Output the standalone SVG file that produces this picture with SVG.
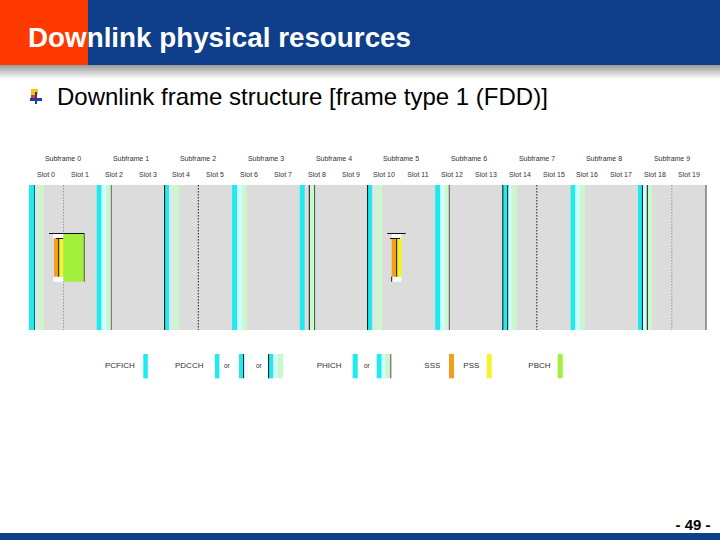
<svg xmlns="http://www.w3.org/2000/svg" width="720" height="540" viewBox="0 0 720 540">
<defs>
<linearGradient id="shadow" x1="0" y1="0" x2="0" y2="1">
<stop offset="0" stop-color="#9a9a9a"/>
<stop offset="1" stop-color="#ffffff"/>
</linearGradient>
<style>
.sf{font-family:"Liberation Sans",Arial,sans-serif;font-size:7px;fill:#333;text-anchor:middle}
.lg{font-family:"Liberation Sans",Arial,sans-serif;font-size:8px;fill:#333}
.or{font-family:"Liberation Sans",Arial,sans-serif;font-size:6.5px;fill:#333}
.cy{fill:#1eeaf0}
.lc{fill:#ccffff}
.lgn{fill:#ccf7cc}
.pl{fill:#dde9e3}
.og{fill:#f2a01c}
.yl{fill:#f4f42c}
.gr{fill:#a2ef3c}
.bk{stroke:#111;stroke-width:1}
.dg{stroke:#666;stroke-width:1}
.dt{stroke:#222;stroke-width:1;stroke-dasharray:1.5,1.5}
.dtg{stroke:#999;stroke-width:1;stroke-dasharray:1.5,1.5}
</style>
</defs>
<rect width="720" height="540" fill="#fff"/>
<g id="header">
<rect x="0" y="65" width="720" height="14" fill="url(#shadow)"/>
<rect x="0" y="0" width="720" height="65" fill="#0f3f8b"/>
<rect x="0" y="0" width="88" height="65" fill="#ff3a00"/>
<text x="28" y="47" font-family="'Liberation Sans',Arial,sans-serif" font-size="28" font-weight="bold" fill="#fff" textLength="383" lengthAdjust="spacingAndGlyphs">Downlink physical resources</text>
</g>
<g id="bullet">
<rect x="31" y="89" width="7" height="6" fill="#f6c21a"/>
<rect x="31" y="95" width="5" height="5" fill="#e23a2a"/>
<rect x="30" y="98" width="12" height="3" fill="#2a3a9a"/>
<rect x="35" y="92" width="2" height="12" fill="#2a3a9a"/>
<text x="57" y="105" font-family="'Liberation Sans',Arial,sans-serif" font-size="24" fill="#000">Downlink frame structure [frame type 1 (FDD)]</text>
</g>
<g id="labels">
<text class="sf" x="63" y="161">Subframe 0</text>
<text class="sf" x="131" y="161">Subframe 1</text>
<text class="sf" x="198" y="161">Subframe 2</text>
<text class="sf" x="266" y="161">Subframe 3</text>
<text class="sf" x="334" y="161">Subframe 4</text>
<text class="sf" x="401" y="161">Subframe 5</text>
<text class="sf" x="469" y="161">Subframe 6</text>
<text class="sf" x="537" y="161">Subframe 7</text>
<text class="sf" x="604" y="161">Subframe 8</text>
<text class="sf" x="672" y="161">Subframe 9</text>
<text class="sf" x="46" y="177">Slot 0</text>
<text class="sf" x="80" y="177">Slot 1</text>
<text class="sf" x="114" y="177">Slot 2</text>
<text class="sf" x="148" y="177">Slot 3</text>
<text class="sf" x="181" y="177">Slot 4</text>
<text class="sf" x="215" y="177">Slot 5</text>
<text class="sf" x="249" y="177">Slot 6</text>
<text class="sf" x="283" y="177">Slot 7</text>
<text class="sf" x="317" y="177">Slot 8</text>
<text class="sf" x="351" y="177">Slot 9</text>
<text class="sf" x="384" y="177">Slot 10</text>
<text class="sf" x="418" y="177">Slot 11</text>
<text class="sf" x="452" y="177">Slot 12</text>
<text class="sf" x="486" y="177">Slot 13</text>
<text class="sf" x="520" y="177">Slot 14</text>
<text class="sf" x="554" y="177">Slot 15</text>
<text class="sf" x="587" y="177">Slot 16</text>
<text class="sf" x="621" y="177">Slot 17</text>
<text class="sf" x="655" y="177">Slot 18</text>
<text class="sf" x="689" y="177">Slot 19</text>
</g>
<g id="frame">
<rect x="29" y="185" width="677" height="145" fill="#dcdcdc"/>
</g>
<g id="subframe0">
<rect class="cy" x="29" y="185" width="5" height="145"/>
<rect class="pl" x="34.5" y="185" width="4" height="145"/>
<rect class="lgn" x="38.7" y="185" width="5" height="145"/>
<line x1="34.5" y1="185" x2="34.5" y2="330" stroke="#0a6a6a"/>
<line class="dtg" x1="63.5" y1="185" x2="63.5" y2="330"/>
</g>
<g id="subframe1">
<rect class="cy" x="96.7" y="185" width="4.9" height="145"/>
<rect class="lc" x="101.6" y="185" width="4.9" height="145"/>
<rect class="lgn" x="106.5" y="185" width="4.6" height="145"/>
<line class="dg" x1="111.3" y1="185" x2="111.3" y2="330"/>
</g>
<g id="subframe2">
<rect class="cy" x="164.4" y="185" width="4.8" height="145"/>
<rect class="pl" x="169.2" y="185" width="4.5" height="145"/>
<rect class="lgn" x="173.7" y="185" width="5.2" height="145"/>
<line class="bk" x1="164.6" y1="185" x2="164.6" y2="330"/>
<line class="dt" x1="198.3" y1="185" x2="198.3" y2="330"/>
</g>
<g id="subframe3">
<rect class="cy" x="232.1" y="185" width="4.9" height="145"/>
<rect class="lc" x="237" y="185" width="5" height="145"/>
<rect class="lgn" x="242" y="185" width="4.7" height="145"/>
</g>
<g id="subframe4">
<rect class="cy" x="299.8" y="185" width="4.9" height="145"/>
<rect class="lgn" x="309.6" y="185" width="4.8" height="145"/>
<line class="bk" x1="309.3" y1="185" x2="309.3" y2="330"/>
<line x1="314.6" y1="185" x2="314.6" y2="330" stroke="#3a5a3a"/>
</g>
<g id="subframe5">
<rect class="cy" x="367.5" y="185" width="4.8" height="145"/>
<rect class="pl" x="372.3" y="185" width="4.8" height="145"/>
<rect class="lgn" x="377.1" y="185" width="4.9" height="145"/>
<line class="bk" x1="367.6" y1="185" x2="367.6" y2="330"/>
</g>
<g id="subframe6">
<rect class="cy" x="435.2" y="185" width="4.9" height="145"/>
<rect class="lc" x="440.1" y="185" width="5" height="145"/>
<rect class="lgn" x="445.1" y="185" width="3.9" height="145"/>
<line x1="449.3" y1="185" x2="449.3" y2="330" stroke="#555"/>
</g>
<g id="subframe7">
<rect class="cy" x="502.9" y="185" width="4.8" height="145"/>
<rect class="lc" x="507.7" y="185" width="4.1" height="145"/>
<rect class="lgn" x="511.8" y="185" width="5" height="145"/>
<line class="bk" x1="502.8" y1="185" x2="502.8" y2="330"/>
<line class="bk" x1="507.7" y1="185" x2="507.7" y2="330"/>
<line class="dt" x1="536.8" y1="185" x2="536.8" y2="330"/>
</g>
<g id="subframe8">
<rect class="cy" x="570.6" y="185" width="4.8" height="145"/>
<rect class="lc" x="575.4" y="185" width="4.9" height="145"/>
<rect class="lgn" x="580.3" y="185" width="4.8" height="145"/>
</g>
<g id="subframe9">
<rect class="cy" x="638" y="185" width="4.4" height="145"/>
<rect class="lc" x="642.6" y="185" width="4.6" height="145"/>
<rect class="lgn" x="647.5" y="185" width="4.6" height="145"/>
<line class="bk" x1="642.4" y1="185" x2="642.4" y2="330"/>
<line class="bk" x1="647.3" y1="185" x2="647.3" y2="330"/>
<line class="dtg" x1="671.8" y1="185" x2="671.8" y2="330"/>
<line x1="706" y1="185" x2="706" y2="330" stroke="#444"/>
</g>
<g id="sync0">
<rect class="gr" x="63.3" y="233.3" width="21" height="48.4"/>
<line x1="84.3" y1="233.3" x2="84.3" y2="281.7" stroke="#555"/>
<rect x="53.3" y="233.3" width="10" height="5" fill="#fff"/>
<rect x="53.3" y="276.7" width="10" height="5" fill="#fff"/>
<rect class="og" x="54" y="238.3" width="4.7" height="38.4"/>
<rect class="yl" x="58.7" y="238.3" width="4.6" height="38.4"/>
<line class="bk" x1="49" y1="233.5" x2="84.3" y2="233.5"/>
<line class="bk" x1="56" y1="238.5" x2="63.3" y2="238.5"/>
<line class="bk" x1="58.7" y1="238.3" x2="58.7" y2="276.7"/>
</g>
<g id="sync5">
<rect x="391.7" y="233.3" width="9.6" height="5" fill="#fff"/>
<rect x="391.7" y="276.7" width="9.6" height="5" fill="#fff"/>
<rect class="og" x="391.7" y="238.3" width="5" height="38.4"/>
<rect class="yl" x="396.7" y="238.3" width="5" height="38.4"/>
<line class="bk" x1="387.3" y1="233.5" x2="405.7" y2="233.5"/>
<line class="bk" x1="390" y1="238.5" x2="400" y2="238.5"/>
<line class="bk" x1="396.7" y1="238.3" x2="396.7" y2="276.7"/>
<line class="bk" x1="391.7" y1="276.7" x2="391.7" y2="281.7"/>
</g>
<g id="legend-pcfich">
<text class="lg" x="105" y="368">PCFICH</text>
<rect class="cy" x="143.3" y="354" width="4.5" height="24.3"/>
</g>
<g id="legend-pdcch">
<text class="lg" x="175" y="368">PDCCH</text>
<rect class="cy" x="215" y="354" width="4.4" height="24.3"/>
<text class="or" x="224" y="368">or</text>
<rect class="cy" x="239" y="354" width="4.4" height="24.3"/>
<rect x="243.8" y="354" width="4.5" height="24.3" fill="#f0fcfc"/>
<line class="bk" x1="243.6" y1="354" x2="243.6" y2="378.3"/>
<text class="or" x="256" y="368">or</text>
<rect class="cy" x="268.5" y="354" width="4.8" height="24.3"/>
<rect class="lc" x="273.3" y="354" width="4" height="24.3"/>
<rect class="lgn" x="277.3" y="354" width="6" height="24.3"/>
<line class="bk" x1="268.6" y1="354" x2="268.6" y2="378.3"/>
</g>
<g id="legend-phich">
<text class="lg" x="316.7" y="368">PHICH</text>
<rect class="cy" x="352.7" y="354" width="5" height="24.3"/>
<text class="or" x="364" y="368">or</text>
<rect class="cy" x="376.7" y="354" width="5" height="24.3"/>
<rect class="lc" x="381.7" y="354" width="3.5" height="24.3"/>
<rect class="lgn" x="385.2" y="354" width="5" height="24.3"/>
<line x1="390.8" y1="354" x2="390.8" y2="378.3" stroke="#3a5a3a"/>
</g>
<g id="legend-sss">
<text class="lg" x="424.3" y="368">SSS</text>
<rect class="og" x="449" y="354" width="5" height="24.3"/>
</g>
<g id="legend-pss">
<text class="lg" x="463.3" y="368">PSS</text>
<rect class="yl" x="486.7" y="354" width="5" height="24.3"/>
</g>
<g id="legend-pbch">
<text class="lg" x="528.3" y="368">PBCH</text>
<rect class="gr" x="557.7" y="354" width="5" height="24.3"/>
</g>
<g id="footer">
<rect x="0" y="533" width="720" height="7" fill="#0f3f8b"/>
<text x="693" y="530" text-anchor="middle" font-family="'Liberation Sans',Arial,sans-serif" font-size="15" font-weight="bold" fill="#000">- 49 -</text>
</g>
</svg>
